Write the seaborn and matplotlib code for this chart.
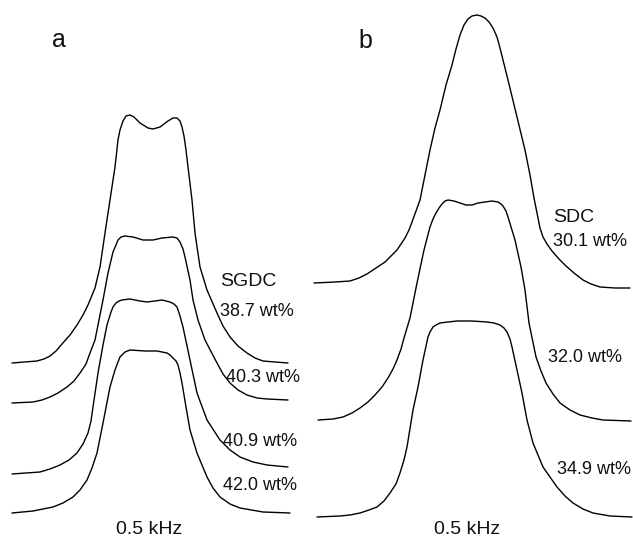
import numpy as np
import pandas as pd
import seaborn as sns
import matplotlib
matplotlib.use("Agg")
import matplotlib.pyplot as plt

# 2H NMR spectra (frequency / intensity in arbitrary units)
# panel a: SGDC
a1_freq = [12, 37, 44, 50, 56, 62, 70, 77, 83, 88, 95, 100, 105, 110, 115, 118, 120, 123, 126,
           130, 134, 140, 148, 153, 160, 168, 173, 177, 180, 182, 184, 186, 188, 192, 195, 200,
           207, 217, 223, 230, 238, 247, 255, 263, 275, 288]
a1_int = [-1, 1, 3, 6, 11, 18, 27, 37, 47, 57, 74, 95, 129, 162, 195, 222, 232, 241, 246,
          247, 245, 239, 234, 233, 235, 241, 244, 244, 241, 235, 226, 212, 195, 162, 129, 95,
          72, 49, 36, 25, 16, 9, 4, 1, 0, -1]

a2_freq = [12, 33, 42, 50, 58, 67, 74, 80, 86, 90, 95, 99, 103, 108, 113, 116, 118, 121, 125,
           133, 143, 153, 162, 173, 177, 180, 183, 185, 190, 193, 198, 205, 217, 223, 230, 238,
           247, 257, 267, 288]
a2_int = [0, 1, 3, 6, 10, 16, 22, 30, 39, 50, 63, 83, 103, 130, 151, 158, 163, 166, 167,
          166, 163, 163, 165, 166, 165, 161, 154, 146, 123, 103, 83, 63, 40, 29, 20, 13,
          8, 5, 4, 3]

a3_freq = [12, 40, 50, 60, 69, 77, 83, 88, 91, 93, 98, 103, 107, 111, 113, 116, 119, 122, 130,
           140, 147, 155, 162, 170, 174, 177, 180, 183, 190, 197, 207, 220, 230, 240, 253, 267, 288]
a3_int = [0, 2, 5, 9, 14, 21, 30, 41, 53, 67, 101, 129, 149, 162, 167, 171, 173, 174, 175,
          173, 172, 173, 174, 172, 170, 167, 158, 147, 114, 81, 54, 34, 24, 17, 12, 9, 7]

a4_freq = [12, 33, 43, 53, 63, 73, 80, 87, 92, 97, 103, 110, 115, 118, 120, 123, 125, 130, 145,
           157, 167, 170, 173, 176, 178, 180, 182, 186, 190, 197, 207, 213, 220, 230, 240, 263, 290]
a4_int = [0, 2, 4, 6, 10, 16, 23, 33, 45, 60, 90, 126, 143, 151, 156, 159, 161, 163, 162,
          162, 160, 158, 155, 152, 148, 140, 130, 106, 83, 60, 36, 25, 16, 9, 5, 1, 0]

# panel b: SDC
b1_freq = [314, 335, 350, 359, 367, 376, 385, 391, 397, 401, 405, 409, 412, 416, 420, 425, 430,
           435, 440, 446, 452, 456, 460, 464, 468, 472, 477, 481, 485, 489, 493, 497, 500, 508,
           517, 525, 530, 534, 536, 538, 540, 543, 547, 552, 559, 566, 574, 583, 591, 600, 615, 630]
b1_int = [0, 1, 2, 5, 9, 15, 21, 27, 33, 39, 45, 53, 61, 72, 83, 108, 133,
          155, 173, 198, 218, 234, 248, 258, 264, 267, 268, 267, 265, 261, 255, 246, 235, 203,
          166, 133, 108, 85, 75, 65, 55, 46, 39, 32, 24, 17, 10, 3, -1, -4, -5, -5]

b2_freq = [318, 333, 343, 352, 360, 368, 375, 382, 388, 393, 397, 401, 404, 410, 417, 424, 430,
           433, 436, 439, 442, 445, 448, 454, 460, 466, 472, 478, 485, 492, 498, 501, 503, 506,
           508, 515, 521, 525, 529, 536, 541, 546, 553, 560, 570, 580, 592, 603, 631]
b2_int = [0, 1, 3, 7, 12, 18, 25, 33, 42, 51, 60, 71, 82, 102, 137, 170, 193,
          201, 207, 212, 216, 219, 220, 219, 217, 215, 215, 217, 218, 219, 218, 216, 214, 209,
          203, 180, 153, 130, 97, 63, 49, 37, 26, 17, 10, 5, 2, 0, -1]

b3_freq = [317, 340, 350, 360, 369, 377, 384, 390, 396, 400, 404, 407, 413, 418, 423, 428, 430,
           433, 436, 440, 448, 457, 472, 487, 494, 500, 504, 507, 510, 512, 517, 522, 527, 533,
           543, 550, 557, 565, 573, 583, 593, 610, 632]
b3_int = [0, 1, 2, 4, 7, 10, 16, 24, 33, 44, 57, 70, 107, 130, 157, 180, 185,
          190, 192, 194, 195, 196, 196, 195, 194, 192, 189, 185, 178, 170, 147, 124, 97, 74,
          50, 40, 30, 21, 14, 8, 4, 1, 0]

# stacking offsets of each spectrum
trace_names = ["38.7 wt%", "40.3 wt%", "40.9 wt%", "42.0 wt%", "30.1 wt%", "32.0 wt%", "34.9 wt%"]
trace_offsets = [179, 138, 67, 28, 258, 121, 24]

traces = [(a1_freq, a1_int), (a2_freq, a2_int), (a3_freq, a3_int), (a4_freq, a4_int),
          (b1_freq, b1_int), (b2_freq, b2_int), (b3_freq, b3_int)]

frames = []
for name, off, (f, i) in zip(trace_names, trace_offsets, traces):
    frames.append(pd.DataFrame({"freq": f, "signal": np.array(i) + off, "trace": name}))
df = pd.concat(frames, ignore_index=True)

sns.set_style("white")
plt.rcParams['font.family'] = ['Liberation Sans', 'DejaVu Sans']

fig = plt.figure(figsize=(6.33, 5.41), dpi=100)
ax = fig.add_axes([0, 0, 1, 1])

for name in trace_names:
    sns.lineplot(data=df[df["trace"] == name], x="freq", y="signal", sort=False,
                 estimator=None, color="black", lw=1.0, ax=ax)

ax.set_xlim(0, 633)
ax.set_ylim(0, 541)
ax.axis("off")

tc = "#111111"
fs = 13
# panel a labels
ax.text(59, 501, "a", fontsize=18, ha="center", va="center", color=tc)
ax.text(220, 260, "SGDC", fontsize=14, ha="left", va="center", color=tc)
ax.text(220, 230, "38.7 wt%", fontsize=fs, ha="left", va="center", color=tc)
ax.text(226, 164, "40.3 wt%", fontsize=fs, ha="left", va="center", color=tc)
ax.text(223, 100, "40.9 wt%", fontsize=fs, ha="left", va="center", color=tc)
ax.text(223, 56, "42.0 wt%", fontsize=fs, ha="left", va="center", color=tc)
ax.text(149, 11, "0.5 kHz", fontsize=14, ha="center", va="center", color=tc)

# panel b labels
ax.text(365, 500, "b", fontsize=18, ha="center", va="center", color=tc)
ax.text(553, 324, "SDC", fontsize=14, ha="left", va="center", color=tc)
ax.text(553, 300, "30.1 wt%", fontsize=fs, ha="left", va="center", color=tc)
ax.text(548, 183, "32.0 wt%", fontsize=fs, ha="left", va="center", color=tc)
ax.text(557, 72, "34.9 wt%", fontsize=fs, ha="left", va="center", color=tc)
ax.text(467, 11, "0.5 kHz", fontsize=14, ha="center", va="center", color=tc)

if ax.get_legend() is not None:
    ax.get_legend().remove()

fig.savefig("out.png", dpi=100)
